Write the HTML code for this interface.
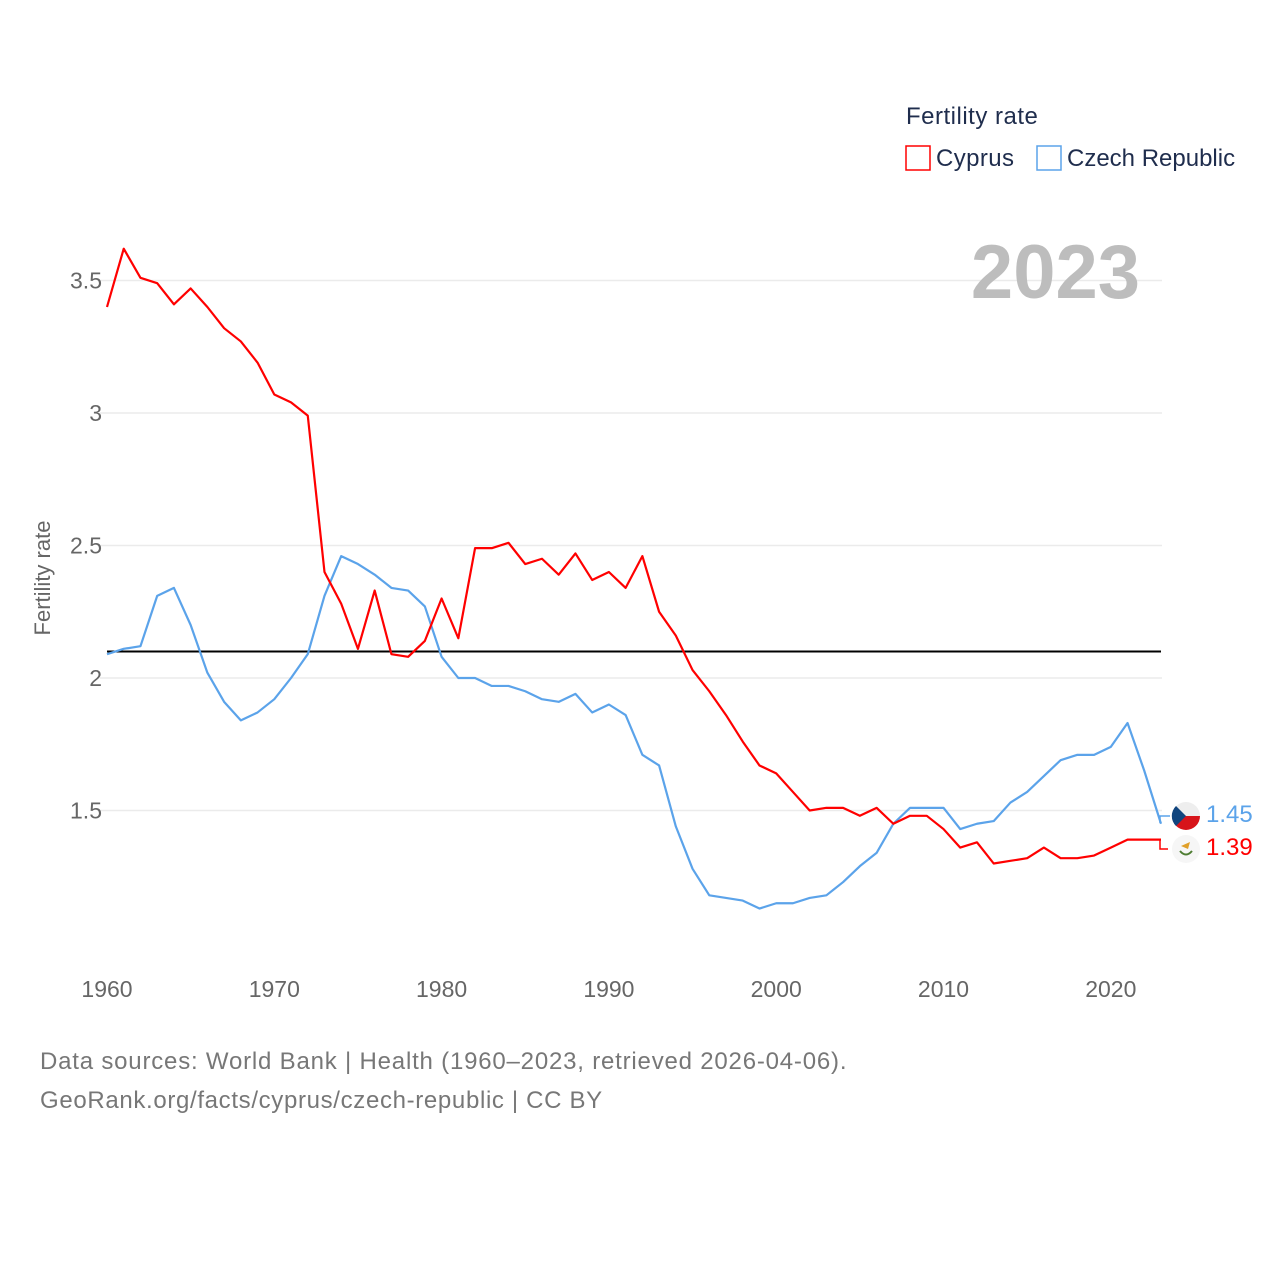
<!DOCTYPE html>
<html><head><meta charset="utf-8"><style>
body{margin:0;background:#fff;}
svg text{font-family:"Liberation Sans",sans-serif;}
</style></head><body>
<svg id="chart" width="1280" height="1280" viewBox="0 0 1280 1280" xmlns="http://www.w3.org/2000/svg">
<rect width="1280" height="1280" fill="#fff"/>
<g id="grid"></g>
<g id="xaxis"></g>
<line id="refline" stroke="#000" stroke-width="2"/>
<g id="series"></g>
<text x="1140" y="298" text-anchor="end" font-size="76" font-weight="bold" fill="#bdbdbd">2023</text>
<text transform="translate(50,578) rotate(-90)" text-anchor="middle" font-size="22" fill="#666">Fertility rate</text>
<text x="906" y="124" font-size="24" letter-spacing="0.5" fill="#1f2d4d">Fertility rate</text>
<g>
<rect x="906" y="146" width="24" height="24" fill="none" stroke="#ff0000" stroke-width="1.5"/>
<text x="936" y="166" font-size="24" letter-spacing="0.4" fill="#1f2d4d">Cyprus</text></g>
<g>
<rect x="1037" y="146" width="24" height="24" fill="none" stroke="#5ba3ea" stroke-width="1.5"/>
<text x="1067" y="166" font-size="24" fill="#1f2d4d">Czech Republic</text></g>
<g>
<circle cx="1186" cy="816" r="14" fill="#eee"/>
<path d="M1172,816 A14,14 0 0 0 1200,816 Z" fill="#d7141a"/>
<path d="M1176,806 L1186,816 L1176,826 A14,14 0 0 1 1176,806 Z" fill="#11457e"/>
</g>
<g>
<circle cx="1186" cy="849" r="14" fill="#f6f6f6"/>
<path d="M1181,846 L1190,842 L1188,849 Z" fill="#e0a02a"/>
<path d="M1180,851 Q1186,858 1192,851" fill="none" stroke="#4e7d32" stroke-width="2"/>
</g>
<text x="1206" y="822" font-size="24" fill="#5ba3ea">1.45</text>
<text x="1206" y="855" font-size="24" fill="#ff0000">1.39</text>
<path d="M1160,823 L1160,816 L1170,816" fill="none" stroke="#5ba3ea" stroke-width="1.5"/>
<path d="M1160,840 L1160,849 L1168,849" fill="none" stroke="#ff0000" stroke-width="1.5"/>
<text x="40" y="1069" font-size="24" letter-spacing="0.8" fill="#777">Data sources: World Bank | Health (1960–2023, retrieved 2026-04-06).</text>
<text x="40" y="1108" font-size="24" letter-spacing="0.66" fill="#777">GeoRank.org/facts/cyprus/czech-republic | CC BY</text>
</svg>
<script>
const years=[];for(let y=1960;y<=2023;y++)years.push(y);
const cyprus=[3.40,3.62,3.51,3.49,3.41,3.47,3.40,3.32,3.27,3.19,3.07,3.04,2.99,2.40,2.28,2.11,2.33,2.09,2.08,2.14,2.30,2.15,2.49,2.49,2.51,2.43,2.45,2.39,2.47,2.37,2.40,2.34,2.46,2.25,2.16,2.03,1.95,1.86,1.76,1.67,1.64,1.57,1.50,1.51,1.51,1.48,1.51,1.45,1.48,1.48,1.43,1.36,1.38,1.30,1.31,1.32,1.36,1.32,1.32,1.33,1.36,1.39,1.39,1.39];
const czech=[2.09,2.11,2.12,2.31,2.34,2.20,2.02,1.91,1.84,1.87,1.92,2.00,2.09,2.31,2.46,2.43,2.39,2.34,2.33,2.27,2.08,2.00,2.00,1.97,1.97,1.95,1.92,1.91,1.94,1.87,1.90,1.86,1.71,1.67,1.44,1.28,1.18,1.17,1.16,1.13,1.15,1.15,1.17,1.18,1.23,1.29,1.34,1.45,1.51,1.51,1.51,1.43,1.45,1.46,1.53,1.57,1.63,1.69,1.71,1.71,1.74,1.83,1.65,1.45];
const yTicks=[1.5,2,2.5,3,3.5];
const yTickLabels=["1.5","2","2.5","3","3.5"];
const xTicks=[1960,1970,1980,1990,2000,2010,2020];
const replacementRate=2.1;
const X=y=>107+(y-1960)*(1161-107)/63;
const Y=v=>678-(v-2)*265;
const NS="http://www.w3.org/2000/svg";
const grid=document.getElementById('grid');
yTicks.forEach((t,i)=>{
 const l=document.createElementNS(NS,'line');
 l.setAttribute('x1',100);l.setAttribute('x2',1162);l.setAttribute('y1',Y(t));l.setAttribute('y2',Y(t));
 l.setAttribute('stroke','#ebebeb');l.setAttribute('stroke-width','1.5');
 
 
 grid.appendChild(l);
 const tx=document.createElementNS(NS,'text');
 tx.setAttribute('x',102);tx.setAttribute('y',Y(t)+8);tx.setAttribute('text-anchor','end');
 tx.setAttribute('font-size','23');tx.setAttribute('fill','#666');tx.textContent=yTickLabels[i];
 
 
 grid.appendChild(tx);
});
const xa=document.getElementById('xaxis');
xTicks.forEach(t=>{
 const tx=document.createElementNS(NS,'text');
 tx.setAttribute('x',X(t));tx.setAttribute('y',997);tx.setAttribute('text-anchor','middle');
 tx.setAttribute('font-size','23');tx.setAttribute('fill','#666');tx.textContent=t;
 
 
 xa.appendChild(tx);
});
const rl=document.getElementById('refline');
rl.setAttribute('x1',107);rl.setAttribute('x2',1161);rl.setAttribute('y1',Y(replacementRate));rl.setAttribute('y2',Y(replacementRate));
const sg=document.getElementById('series');
function draw(vals,color,name){
 const p=document.createElementNS(NS,'polyline');
 p.setAttribute('points',vals.map((v,i)=>X(years[i])+','+Y(v)).join(' '));
 p.setAttribute('fill','none');p.setAttribute('stroke',color);p.setAttribute('stroke-width','2.2');
 p.setAttribute('stroke-linejoin','round');
 
 
 sg.appendChild(p);
}
draw(czech,'#5ba3ea','czech-republic-line');
draw(cyprus,'#ff0000','cyprus-line');
</script>
</body></html>
